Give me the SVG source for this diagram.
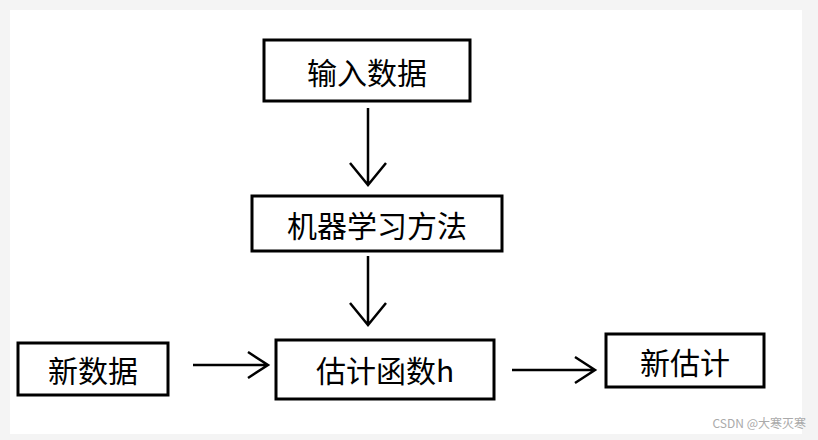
<svg xmlns="http://www.w3.org/2000/svg" width="818" height="440" viewBox="0 0 818 440">
<style>
.b{fill:#fff;stroke:#000;stroke-width:3}
.t{font-family:"Noto Sans CJK SC","Liberation Sans",sans-serif;font-size:30px;fill:#000;text-anchor:middle;dominant-baseline:central}
.c{stroke:#000;stroke-width:2.5;fill:none}
</style>
<rect width="818" height="440" fill="#f4f4f4"/>
<rect x="10" y="10" width="792" height="424" fill="#fff"/>
<g id="n1"><rect class="b" x="264" y="40" width="206" height="61"/><text class="t" x="367" y="71">输入数据</text></g>
<g id="n2"><rect class="b" x="252" y="196" width="250" height="55"/><text class="t" x="377" y="224">机器学习方法</text></g>
<g id="n3"><rect class="b" x="18" y="343" width="150" height="52"/><text class="t" x="93" y="369">新数据</text></g>
<g id="n4"><rect class="b" x="276" y="340" width="218" height="59"/><text class="t" x="385" y="369">估计函数h</text></g>
<g id="n5"><rect class="b" x="606" y="334" width="158" height="53"/><text class="t" x="685" y="361">新估计</text></g>
<g id="connectors">
<path class="c" d="M368 108V185M350 163L368 185L386 163"/>
<path class="c" d="M368 256V325M350 303L368 325L386 303"/>
<path class="c" d="M193 365H268M248 352L268 365L248 378"/>
<path class="c" d="M512 370H595M575 357L595 370L575 383"/>
</g>
<text x="806" y="428" font-family="Noto Sans CJK SC,sans-serif" font-size="12" fill="#aaa" text-anchor="end">CSDN @大寒灭寒</text>
</svg>
